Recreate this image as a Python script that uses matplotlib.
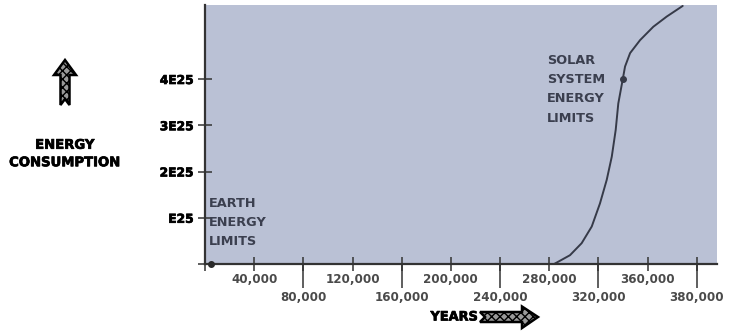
import matplotlib
matplotlib.use("Agg")
import matplotlib.pyplot as plt
from matplotlib.patches import Polygon
import matplotlib.patheffects as pe

# ---- data ----
curve_years = [284000, 296900, 306400, 314600, 321300, 326800, 330900, 334100,
               336200, 339800, 341700, 345800, 353900, 364700, 375600, 388600]
curve_energy = [0.0, 0.19, 0.45, 0.81, 1.31, 1.82, 2.32, 2.90,
                3.47, 3.99, 4.27, 4.56, 4.84, 5.13, 5.35, 5.58]  # units of 1E25
earth_point = (5000, 0.0)
solar_point = (339800, 4.0)

x_ticks = [0, 40000, 80000, 120000, 160000, 200000, 240000, 280000,
           320000, 360000, 400000]
x_labels = ["", "40,000", "80,000", "120,000", "160,000", "200,000", "240,000",
            "280,000", "320,000", "360,000", "380,000"]
y_ticks = [0, 1, 2, 3, 4]
y_labels = ["", "E25", "2E25", "3E25", "4E25"]

W, H = 733, 333
fig = plt.figure(figsize=(W / 100, H / 100), dpi=100)
fig.patch.set_facecolor("white")

ax = fig.add_axes([205 / W, (H - 264) / H, 512 / W, 259 / H])
ax.set_facecolor("#bac1d5")
ax.set_xlim(0, 416500)
ax.set_ylim(0, 5.6)

axis_col = "#333333"
for s in ("top", "right"):
    ax.spines[s].set_visible(False)
for s in ("left", "bottom"):
    ax.spines[s].set_color(axis_col)
    ax.spines[s].set_linewidth(1.6)
    ax.spines[s].set_zorder(5)

# curve and points
ax.plot(curve_years, curve_energy, color="#363a48", lw=1.4, zorder=4,
        solid_capstyle="round", solid_joinstyle="round", clip_on=False)
ax.plot(*solar_point, "o", color="#363a48", ms=4, zorder=6)
ax.plot(*earth_point, "o", color="#2a2a2a", ms=4, zorder=6, clip_on=False)

# x ticks: major = all (short inout) with top-row labels,
# minor = 80k multiples (long out) with bottom-row labels
top_labels = [t if i % 2 == 1 else "" for i, t in enumerate(x_labels)]
bot_ticks = [t for i, t in enumerate(x_ticks) if i % 2 == 0 and i > 0]
bot_labels = [t for i, t in enumerate(x_labels) if i % 2 == 0 and i > 0]

ax.xaxis.remove_overlapping_locs = False
ax.set_xticks(x_ticks)
ax.set_xticklabels(top_labels)
ax.set_xticks(bot_ticks, minor=True)
ax.set_xticklabels(bot_labels, minor=True)
ax.tick_params(axis="x", which="major", direction="inout", length=10,
               width=1.1, color=axis_col, pad=1.5, labelsize=8.6,
               labelcolor="#4a4a4a")
ax.tick_params(axis="x", which="minor", direction="out", length=17,
               width=1.1, color=axis_col, pad=2.2, labelsize=8.6,
               labelcolor="#4a4a4a")
for t in ax.get_xticklabels() + ax.get_xticklabels(minor=True):
    t.set_fontweight("bold")

ax.set_yticks(y_ticks)
ax.set_yticklabels(y_labels)
ax.tick_params(axis="y", direction="inout", length=10, width=1.1,
               color=axis_col, pad=3, labelsize=8.8, labelcolor="black")
heavy = [pe.withStroke(linewidth=0.5, foreground="black")]
for t in ax.get_yticklabels():
    t.set_fontweight("bold")
    t.set_path_effects(heavy)

# in-plot annotations
txt_col = "#3b3f4f"
ax.text(3500, 1.45, "EARTH\nENERGY\nLIMITS", ha="left", va="top",
        fontsize=9.3, fontweight="bold", color=txt_col, linespacing=1.62)
ax.text(278000, 4.54, "SOLAR\nSYSTEM\nENERGY\nLIMITS", ha="left", va="top",
        fontsize=9.3, fontweight="bold", color=txt_col, linespacing=1.62)

# outer labels
fig.text(65 / W, 1 - 154 / H, "ENERGY\nCONSUMPTION", ha="center", va="center",
         fontsize=9.5, fontweight="bold", color="black", linespacing=1.45,
         path_effects=heavy)
fig.text(454 / W, 1 - 317 / H, "YEARS", ha="center", va="center",
         fontsize=9.3, fontweight="bold", color="black", path_effects=heavy)


def px(pts):
    return [(x / W, 1 - y / H) for x, y in pts]


up = px([(65, 60), (76, 75), (69.5, 75), (69.5, 105), (65, 99), (60.5, 105),
         (60.5, 75), (54, 75)])
right = px([(538, 317), (522, 306.5), (522, 312), (480, 312), (485, 317),
            (480, 322), (522, 322), (522, 328)])
for poly in (up, right):
    fig.patches.append(Polygon(poly, closed=True, transform=fig.transFigure,
                               facecolor="#9a9a9a", edgecolor="black", lw=1.8,
                               hatch="xxxx", joinstyle="miter"))

fig.savefig("out.png", dpi=100)
